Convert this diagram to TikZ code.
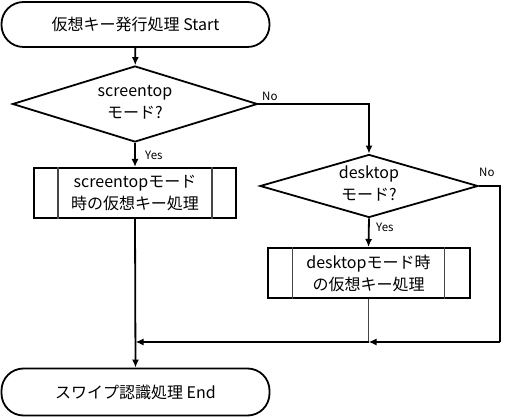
\documentclass[tikz,border=0pt]{standalone}
\usepackage{fontspec}
\setmainfont{Noto Sans CJK JP}
\usetikzlibrary{positioning, arrows.meta, shapes.geometric}
\definecolor{flowline}{RGB}{0, 0, 0}
\definecolor{flowgray}{RGB}{70, 70, 70}

% text of a decision without size, so the diamond keeps its own size
\newcommand{\dectext}[1]{\smash{\makebox[0pt]{\raisebox{-3.5pt}{\begin{tabular}{@{}c@{}}#1\end{tabular}}}}}

\begin{document}
\begin{tikzpicture}[
    x=1pt, y=1pt,
    font=\fontsize{16}{22}\selectfont,
    terminal/.style={rectangle, draw=flowline, line width=1.8pt, rounded corners=22pt,
                minimum width=268pt, minimum height=45pt, align=center},
    decision/.style={diamond, draw=flowline, line width=1.8pt, inner sep=0pt},
    process/.style={rectangle, draw=flowline, line width=2pt,
                minimum width=202pt, minimum height=50pt, align=center},
    sideline/.style={draw=flowgray, line width=1.4pt},
    link/.style={line width=1.8pt, color=flowline},
    arrow/.style={-{Latex[length=8pt,width=7pt]}, line width=1.8pt, color=flowline},
    answer/.style={font=\fontsize{11.5}{13}\selectfont, inner sep=1pt}
  ]
    \useasboundingbox (0,0) rectangle (507,418);

    \node[terminal] (start) at (135.5,393.5) {仮想キー発行処理 Start};
    \node[decision, minimum width=245pt, minimum height=76pt] (scr) at (135,314)
        {\dectext{screentop\\モード?}};
    \node[process] (scrproc) at (135,225) {screentopモード\\時の仮想キー処理};
    \node[decision, minimum width=218pt, minimum height=63pt] (desk) at (369,232)
        {\dectext{desktop\\モード?}};
    \node[process] (deskproc) at (368.5,145) {desktopモード時\\の仮想キー処理};
    \node[terminal, minimum height=47pt] (end) at (135.5,26) {スワイプ認識処理 End};

    % inner bars of the predefined processes
    \draw[sideline] ([xshift=25pt]scrproc.north west) -- ([xshift=25pt]scrproc.south west);
    \draw[sideline] ([xshift=-25pt]scrproc.north east) -- ([xshift=-25pt]scrproc.south east);
    \draw[sideline] ([xshift=26pt]deskproc.north west) -- ([xshift=26pt]deskproc.south west);
    \draw[sideline] ([xshift=-26pt]deskproc.north east) -- ([xshift=-26pt]deskproc.south east);

    \coordinate (rbend) at (500,76);
    \coordinate (merge) at (deskproc.south |- rbend);
    \coordinate (mainin) at (end.north |- rbend);

    \draw[arrow] (start) -- (scr);
    \draw[arrow] (scr.south) -- (scrproc.north);
    \draw[arrow] (scr.east) -| (desk.north);
    \draw[arrow] (desk.south) -- (deskproc.north);
    \draw[arrow] (scrproc.south) -- (end.north);
    \draw[link] (desk.east) -| (rbend);
    \draw[arrow] (rbend) -- (merge);
    \draw[link, color=flowgray, line width=1.4pt] (deskproc.south) -- (merge);
    \draw[arrow] (merge) -- (mainin);

    \node[answer, anchor=west] (scryes) at (144,263) {Yes};
    \node[answer, anchor=west] (scrno) at (261,322) {No};
    \node[answer, anchor=west] (deskyes) at (375,191) {Yes};
    \node[answer, anchor=west] (deskno) at (478,246) {No};
\end{tikzpicture}
\end{document}
